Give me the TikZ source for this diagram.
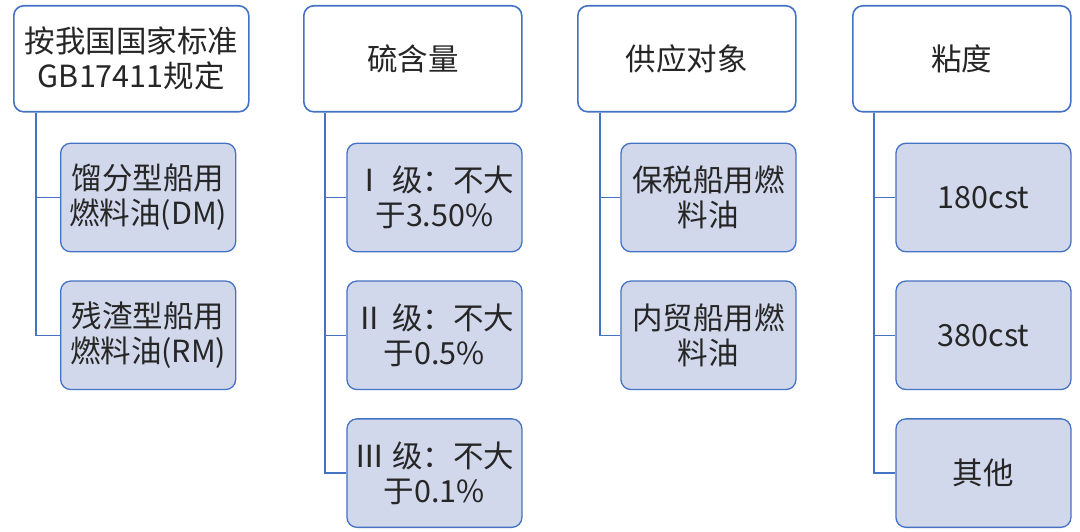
\documentclass[tikz,border=0pt]{standalone}
\usepackage{fontspec}
\setmainfont{Noto Sans CJK SC}
\usepackage{tikz}
\usetikzlibrary{positioning}
\definecolor{boxline}{RGB}{68,114,196}
\definecolor{boxfill}{RGB}{210,216,235}
\definecolor{ink}{RGB}{38,38,38}

\begin{document}
\begin{tikzpicture}[
  node distance=28pt,
  every node/.style={font=\fontsize{30.5}{35}\selectfont, text=ink},
  head/.style={draw=boxline, line width=1.6pt, rounded corners=10pt, align=center, fill=white, minimum width=218pt, minimum height=106pt, inner sep=0pt, anchor=north west},
  sub/.style={draw=boxline, line width=1.3pt, rounded corners=10pt, align=center, fill=boxfill, minimum width=175pt, minimum height=108.5pt, inner sep=0pt},
  tree/.style={draw=boxline, line width=1.6pt}
]
\useasboundingbox (0,0) rectangle (1080pt,-532pt);
\node[head, minimum width=235pt] (h1) at (13pt,-5pt) {按我国国家标准\\GB17411规定};
\node[head] (h2) at (303pt,-5pt) {硫含量};
\node[head] (h3) at (577pt,-5pt) {供应对象};
\node[head] (h4) at (852pt,-5pt) {粘度};
\node[sub, anchor=north west] (c11) at ([xshift=47pt, yshift=-30pt]h1.south west) {馏分型船用\\燃料油(DM)};
\node[sub, below=of c11] (c12) {残渣型船用\\燃料油(RM)};
\node[sub, anchor=north east] (c21) at ([yshift=-30pt]h2.south east) {Ⅰ 级：不大\\于3.50\%};
\node[sub, below=of c21] (c22) {Ⅱ 级：不大\\于0.5\%};
\node[sub, below=of c22] (c23) {Ⅲ 级：不大\\于0.1\%};
\node[sub, anchor=north east] (c31) at ([yshift=-30pt]h3.south east) {保税船用燃\\料油};
\node[sub, below=of c31] (c32) {内贸船用燃\\料油};
\node[sub, anchor=north east] (c41) at ([yshift=-30pt]h4.south east) {180cst};
\node[sub, below=of c41] (c42) {380cst};
\node[sub, below=of c42] (c43) {其他};
\draw[tree] ([xshift=23pt]h1.south west) |- (c11.west);
\draw[tree] ([xshift=23pt]h1.south west) |- (c12.west);
\draw[tree] ([xshift=22pt]h2.south west) |- (c21.west);
\draw[tree] ([xshift=22pt]h2.south west) |- (c22.west);
\draw[tree] ([xshift=22pt]h2.south west) |- (c23.west);
\draw[tree] ([xshift=23pt]h3.south west) |- (c31.west);
\draw[tree] ([xshift=23pt]h3.south west) |- (c32.west);
\draw[tree] ([xshift=22pt]h4.south west) |- (c41.west);
\draw[tree] ([xshift=22pt]h4.south west) |- (c42.west);
\draw[tree] ([xshift=22pt]h4.south west) |- (c43.west);
\end{tikzpicture}
\end{document}
